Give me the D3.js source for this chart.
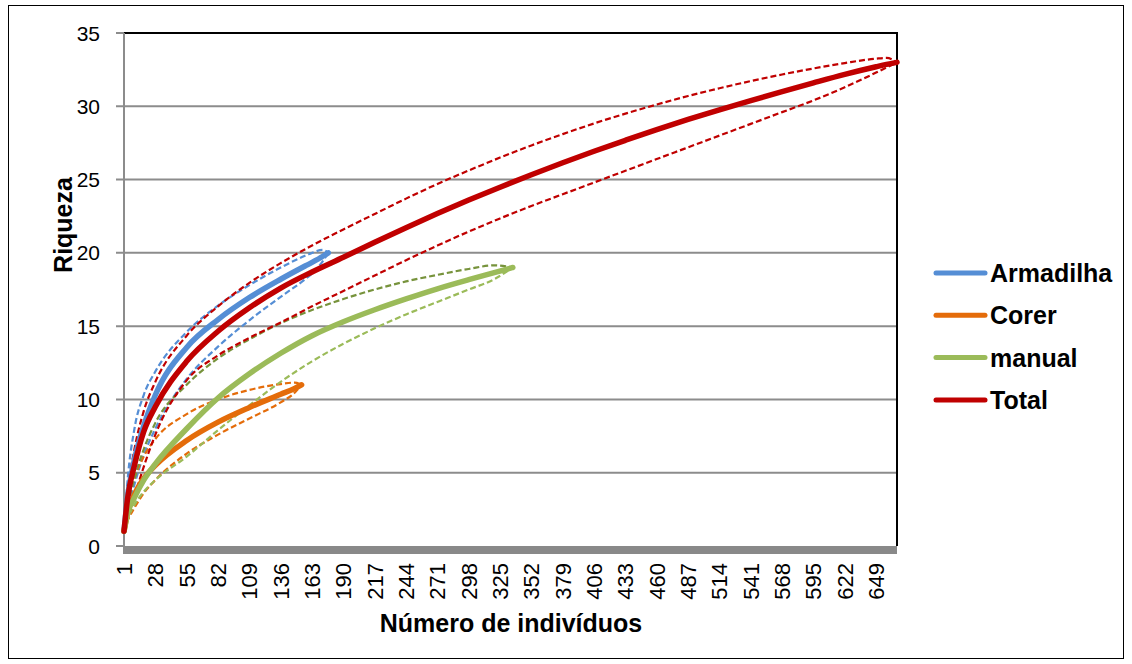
<!DOCTYPE html>
<html><head><meta charset="utf-8">
<script src="https://cdn.jsdelivr.net/npm/d3@7"></script>
<style>
body{margin:0;background:#fff}
text{font-family:"Liberation Sans",Arial,sans-serif}
</style>
</head><body>
<svg id="chart" width="1132" height="664"></svg>
<script>
// ---- data ----
const categoryCount = 667;                 // x categories 1..667
const xTickLabels = [1,28,55,82,109,136,163,190,217,244,271,298,325,352,379,406,433,460,487,514,541,568,595,622,649];
const yTickValues = [0,5,10,15,20,25,30,35];
const seriesNames = ["Armadilha","Corer","manual","Total"];
const seriesColors = ["#558ED5","#E46C0A","#9BBB59","#C00000"];
const upperColors = ["#558ED5","#E46C0A","#77933C","#C00000"];
const lowerColors = ["#558ED5","#E46C0A","#9BBB59","#C00000"];

const armN     = [1,4,10,18,28,55,82,109,136,157,163,172,177];
const armMean  = [1,3.3,5.9,8.2,10.3,13.55,15.45,16.95,18.2,19.1,19.35,19.75,20.0];
const armUpper = [1,4.4,8.0,10.3,11.9,14.6,16.4,17.8,19.0,19.8,20.0,20.2,20.0];
const armLower = [1,2.4,4.2,6.2,8.0,11.4,13.6,15.4,17.0,18.2,18.6,19.4,20.0];

const corN     = [1,4,10,18,28,55,82,109,136,148,154];
const corMean  = [1,2.2,3.5,4.6,5.5,7.2,8.45,9.45,10.35,10.75,11.0];
const corUpper = [1,2.9,4.6,6.1,7.3,9.0,10.0,10.65,11.05,11.15,11.0];
const corLower = [1,1.7,2.6,3.6,4.5,6.3,7.6,8.7,9.8,10.45,11.0];

const manN     = [1,4,10,18,28,55,82,109,136,163,190,217,244,271,298,320,336];
const manMean  = [1,2.2,3.3,4.5,5.6,8.0,10.1,11.75,13.15,14.35,15.3,16.12,16.86,17.55,18.17,18.65,19.0];
const manUpper = [1,2.6,4.6,6.6,8.4,11.0,12.8,14.1,15.2,16.1,16.85,17.5,18.05,18.5,18.9,19.15,19.0];
const manLower = [1,1.8,2.8,3.7,4.5,6.1,7.9,9.6,11.2,12.6,13.8,14.85,15.8,16.65,17.5,18.2,19.0];

const totN     = [1,4,10,18,28,55,82,109,136,163,190,217,244,271,298,325,352,379,406,433,460,487,514,541,568,595,622,649,658,667];
const totMean  = [1,3.2,5.5,7.8,9.5,12.6,14.65,16.25,17.6,18.7,19.7,20.72,21.72,22.68,23.6,24.48,25.33,26.15,26.93,27.68,28.41,29.1,29.76,30.39,31.0,31.6,32.18,32.7,32.86,33.0];
const totUpper = [1,3.6,6.6,9.2,11.2,14.35,16.35,17.95,19.3,20.5,21.6,22.65,23.7,24.7,25.62,26.5,27.33,28.1,28.83,29.5,30.12,30.7,31.23,31.72,32.17,32.58,32.95,33.25,33.3,33.0];
const totLower = [1,1.9,3.4,5.4,7.6,11.3,13.0,14.2,15.25,16.35,17.4,18.45,19.5,20.5,21.45,22.35,23.2,24.0,24.8,25.6,26.4,27.2,28.0,28.8,29.6,30.4,31.3,32.3,32.65,33.0];

const seriesN = [armN, corN, manN, totN];
const seriesMean = [armMean, corMean, manMean, totMean];
const seriesUpper = [armUpper, corUpper, manUpper, totUpper];
const seriesLower = [armLower, corLower, manLower, totLower];

// ---- layout ----
const svg = d3.select("#chart");
const pLeft = 124, pRight = 897, pTop = 33, pBottom = 546;

svg.append("rect").attr("x",8.5).attr("y",5.5).attr("width",1115).attr("height",653)
  .attr("fill","#fff").attr("stroke","#000").attr("stroke-width",1);

const x = d3.scalePoint().domain(d3.range(1, categoryCount + 1)).range([pLeft, pRight]);
const y = d3.scaleLinear().domain([0, 35]).range([pBottom, pTop]);

// gridlines
svg.append("g").selectAll("line").data(yTickValues.filter(v => v > 0 && v < 35)).join("line")
  .attr("x1", pLeft - 8).attr("x2", pRight).attr("y1", d => y(d)).attr("y2", d => y(d))
  .attr("stroke", "#8c8c8c").attr("stroke-width", 2);
svg.append("g").selectAll("line").data([0, 35]).join("line")
  .attr("x1", pLeft - 8).attr("x2", pLeft).attr("y1", d => y(d)).attr("y2", d => y(d))
  .attr("stroke", "#8c8c8c").attr("stroke-width", 2);

// plot border top & right
svg.append("line").attr("x1", pLeft).attr("x2", pRight + 1).attr("y1", y(35)).attr("y2", y(35))
  .attr("stroke", "#000").attr("stroke-width", 2);
svg.append("line").attr("x1", pRight).attr("x2", pRight).attr("y1", y(35)).attr("y2", pBottom)
  .attr("stroke", "#000").attr("stroke-width", 2);

// y axis line
svg.append("line").attr("x1", pLeft).attr("x2", pLeft).attr("y1", y(35)).attr("y2", pBottom + 8)
  .attr("stroke", "#8c8c8c").attr("stroke-width", 2);

// x axis band
svg.append("rect").attr("x", pLeft - 1).attr("y", pBottom).attr("width", pRight - pLeft + 1).attr("height", 8)
  .attr("fill", "#898989");

// y tick labels
svg.append("g").selectAll("text").data(yTickValues).join("text")
  .attr("x", 100).attr("y", d => y(d)).attr("dy", "0.36em")
  .attr("text-anchor", "end").attr("font-size", 21).attr("fill", "#000").text(d => d);

// x tick labels
svg.append("g").selectAll("text").data(xTickLabels).join("text")
  .attr("transform", d => `translate(${x(d) + 8},563) rotate(-90)`)
  .attr("text-anchor", "end").attr("font-size", 22).attr("fill", "#000").text(d => d);

// axis titles
svg.append("text").attr("x", 511).attr("y", 632).attr("text-anchor", "middle")
  .attr("font-size", 25).attr("font-weight", "bold").text("Número de indivíduos");
svg.append("text").attr("transform", "translate(72,225) rotate(-90)").attr("text-anchor", "middle")
  .attr("font-size", 25).attr("font-weight", "bold").text("Riqueza");

// lines
const line = d3.line().x(d => x(d[0])).y(d => y(d[1])).curve(d3.curveMonotoneX);
const g = svg.append("g");
seriesNames.forEach((name, i) => {
  const nArr = seriesN[i];
  const up = nArr.map((n, k) => [n, seriesUpper[i][k]]);
  const lo = nArr.map((n, k) => [n, seriesLower[i][k]]);
  g.append("path").attr("d", line(up)).attr("fill", "none").attr("stroke", upperColors[i])
    .attr("stroke-width", 2.2).attr("stroke-dasharray", "6,3");
  g.append("path").attr("d", line(lo)).attr("fill", "none").attr("stroke", lowerColors[i])
    .attr("stroke-width", 2.2).attr("stroke-dasharray", "6,3");
});
seriesNames.forEach((name, i) => {
  const nArr = seriesN[i];
  const m = nArr.map((n, k) => [n, seriesMean[i][k]]);
  g.append("path").attr("d", line(m)).attr("fill", "none").attr("stroke", seriesColors[i])
    .attr("stroke-width", 5.5).attr("stroke-linecap", "round").attr("stroke-linejoin", "round");
});

// legend
const lg = svg.append("g");
seriesNames.forEach((name, i) => {
  const yy = 273 + i * 42.3;
  lg.append("line").attr("x1", 936).attr("x2", 985).attr("y1", yy).attr("y2", yy)
    .attr("stroke", seriesColors[i]).attr("stroke-width", 5).attr("stroke-linecap", "round");
  lg.append("text").attr("x", 990).attr("y", yy).attr("dy", "0.36em")
    .attr("font-size", 25).attr("font-weight", "bold").text(name);
});
</script>
</body></html>
